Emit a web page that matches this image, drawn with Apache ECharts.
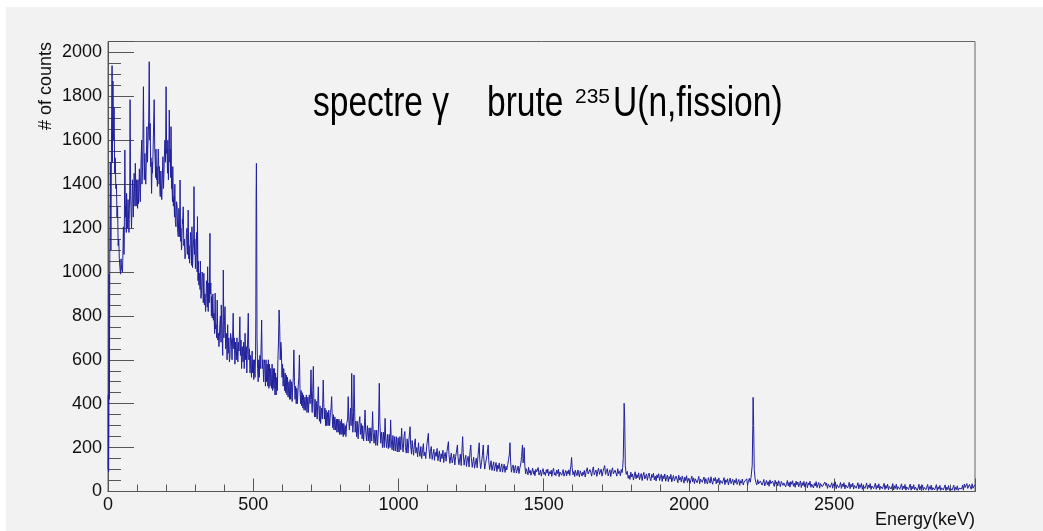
<!DOCTYPE html>
<html>
<head>
<meta charset="utf-8">
<script src="https://cdn.jsdelivr.net/npm/echarts@6/dist/echarts.min.js"></script>
<style>
html,body{margin:0;padding:0;background:#ffffff;}
#c{width:1043px;height:531px;}
</style>
</head>
<body>
<div id="c"></div>
<script>
// ---- Data: [energy (keV), counts] ----
const lowEnergyRise = [
  [0,100],[1,440],[2,90],[3,300],[4,990],[5,420],[6,1000],[8,1500],[10,1100],[12,1600],
  [14,1940],[15,1500],[17,1870],[19,1600],[21,1750],[23,1450],[25,1520],[27,1380],[29,1400],
  [31,1250],[33,1300],[35,1120],[37,1150],[39,1060],[41,1020],[43,990],[45,1060],[47,1010]
];
const mainHump = [
  [50,1000],[52,1120],[53,1206],[55,1080],[56,1150],[58,1556],[60,1250],[61,1300],[63,1180],
  [64,1358],[66,1240],[67,1200],[69,1330],[70,1290],[72,1180],[73,1240],[75,1400],[76,1785],
  [78,1350],[79,1300],[81,1200],[82,1267],[84,1420],[85,1380],[87,1250],[88,1310],[90,1450],
  [91,1404],[93,1300],[94,1495],[96,1380],[97,1300],[99,1420],[100,1343],[102,1290],[103,1420],
  [105,1310],[106,1350],[108,1470],[109,1430],[111,1320],[112,1380],[114,1520],[116,1601],
  [117,1400],[119,1480],[120,1560],[122,1844],[124,1500],[125,1420],[127,1540],[128,1480],
  [130,1400],[131,1450],[133,1580],[134,1662],[136,1500],[137,1560],[139,1640],[140,1692],
  [142,1958],[144,1600],[145,1677],[147,1480],[148,1520],[150,1358],[152,1500],[153,1450],
  [155,1540],[156,1601],[159,1785],[161,1560],[162,1525],[164,1430],[165,1560],[167,1420],
  [168,1480],[170,1390],[171,1449],[173,1560],[174,1520],[176,1400],[177,1480],[179,1360],
  [180,1343],[182,1460],[183,1420],[185,1330],[186,1370],[188,1480],[189,1525],[191,1380],
  [192,1420],[194,1520],[196,1600],[198,1500],[200,1844],[202,1540],[203,1560],[205,1450],
  [206,1600],[208,1420],[209,1480],[211,1738],[213,1500],[214,1560],[216,1430],[217,1662],
  [219,1380],[220,1420],[222,1320],[223,1480],[225,1300],[227,1343],[229,1250],[230,1400],
  [232,1230],[234,1206],[236,1320],[238,1300],[240,1180],[242,1161],[244,1290],[245,1250],
  [247,1160],[248,1419],[250,1140],[251,1200],[253,1100],[254,1115],[256,1240],[257,1220],
  [259,1297],[261,1120],[263,1150],[265,1060],[268,1085],[270,1180],[272,1200],[274,1080],
  [276,1282],[278,1060],[279,1120],[281,1040],[282,1070],[284,1180],[286,1150],[288,1030],
  [289,1206],[291,1020],[293,1100],[295,1150],[296,1389],[298,1080],[299,1150],[301,1015],
  [303,1100],[305,1180],[307,1000],[308,1252],[310,960],[311,1050],[313,940],[315,994],
  [317,920],[318,1050],[320,880],[322,903],[324,1000],[326,980],[328,860],[330,994],
  [332,850],[334,900],[336,820],[337,842],[339,960],[340,950],[342,840],[343,1024],
  [345,820],[347,950],[349,860],[351,1176],[352,900],[354,950],[356,800],[357,888],
  [359,790],[361,900],[363,780],[365,812],[367,720],[369,903],[370,740],[372,760],
  [374,700],[376,872],[378,690],[380,721],[382,660],[383,690],[385,760],[387,800],[389,680],[390,850]
];
const midRange = [
  [393,700],[395,620],[397,1009],[399,700],[401,780],[403,842],[405,650],[408,720],[410,600],
  [412,760],[414,630],[416,700],[418,590],[420,614],[422,720],[425,690],[427,600],[429,700],
  [431,812],[433,650],[435,700],[437,580],[439,680],[442,600],[444,700],[447,590],[449,680],
  [451,640],[454,796],[456,620],[458,690],[460,560],[462,660],[465,590],[467,680],[469,560],
  [472,721],[474,600],[476,660],[478,540],[480,650],[483,812],[485,600],[487,650],[489,540],
  [491,620],[494,520],[496,640],[498,540],[500,600],[502,510],[504,600],[506,520],[508,620],
  [509,800],[510,1350],[511,1495],[512,1200],[513,700],[515,560],[517,500],[519,600],[521,520],
  [523,620],[525,560],[527,650],[529,781],[531,560],[533,600],[536,500],[538,600],[540,584],
  [542,480],[544,600],[546,500],[548,580],[550,480],[552,600],[554,470],[556,580],[558,480],
  [560,560],[563,470],[565,580],[567,460],[569,560],[571,470],[573,560],[575,440],[577,540],
  [579,440],[581,520],[583,460],[585,600],[587,680],[589,827],[591,760],[593,600],[595,680],
  [597,645],[599,520],[601,580],[603,480],[605,560],[608,460],[610,540],[612,450],[614,530],
  [616,440],[618,520],[620,430],[623,500],[625,420],[627,510],[629,420],[632,500],[634,410],
  [636,480],[638,520],[640,645],[642,500],[644,420],[646,480],[648,400],[650,470],[652,400],
  [655,480],[657,520],[659,622],[661,470],[663,400],[665,460],[667,390],[669,450],[671,380],
  [673,440],[675,370],[678,430],[680,370],[683,440],[685,360],[688,430],[690,360],[693,440],
  [696,400],[699,554],[701,420],[703,360],[705,460],[707,570],[709,400],[711,340],[713,420],
  [715,340],[718,410],[720,330],[722,400],[724,477],[726,380],[728,320],[730,390],[732,310],
  [735,380],[738,330],[741,508],[743,400],[745,330],[747,380],[749,300],[751,370],[753,300],
  [756,360],[758,300],[760,370],[763,300],[766,360],[768,380],[770,432],[772,340],[774,290],
  [776,350],[778,280],[781,340],[783,280],[786,330],[788,270],[790,330],[793,270],[795,330],
  [797,260],[799,320],[802,260],[804,330],[806,260],[808,310],[810,250],[812,310],[814,260],
  [817,300],[819,250],[822,310],[825,330],[827,432],[829,330],[831,280],[833,330],[835,380],
  [837,300],[839,538],[841,360],[843,270],[845,320]
];
const plateau = [
  [847,531],[849,380],[851,270],[853,320],[856,250],[858,320],[861,240],[864,310],[867,341],
  [869,260],[872,310],[875,240],[877,300],[880,230],[883,300],[885,371],[887,280],[890,230],
  [893,300],[896,230],[899,290],[902,220],[905,290],[908,230],[911,364],[913,270],[916,220],
  [919,280],[922,210],[925,280],[928,210],[931,280],[934,493],[936,320],[939,220],[942,270],
  [945,200],[948,270],[951,200],[954,333],[956,240],[959,200],[962,260],[965,195],[968,260],
  [971,200],[973,326],[975,240],[978,190],[981,255],[984,185],[987,250],[990,185],[993,250],
  [996,180],[999,245],[1002,180],[1005,250],[1008,190],[1011,288],[1013,220],[1016,180],
  [1019,250],[1022,273],[1024,200],[1027,175],[1030,240],[1033,175],[1036,235],
  [1040,295],[1042,210],[1045,170],[1047,232],[1050,190],[1052,165],[1055,215],[1058,240],
  [1060,175],[1063,200],[1066,158],[1069,222],[1071,185],[1074,160],[1077,205],[1080,150],
  [1083,192],[1086,218],[1088,162],[1091,180],[1094,150],[1097,205],[1100,210],[1103,265],
  [1105,195],[1108,150],[1110,182],[1113,205],[1116,146],[1119,170],[1122,192],[1124,142],
  [1127,178],[1130,160],[1133,196],[1136,140],[1139,168],[1141,185],[1144,135],[1147,172],
  [1150,150],[1153,188],[1156,132],[1158,160],[1161,178],[1164,138],[1167,182],[1170,190],
  [1172,227],[1174,168],[1177,128],[1180,158],[1182,175],[1185,130],[1188,150],[1191,170],
  [1194,121],[1197,160],[1200,185],[1203,212],[1205,158],[1208,122],[1211,148],[1213,170],
  [1216,118],[1219,195],[1221,250],[1223,178],[1226,120],[1229,150],[1232,165],[1234,114],
  [1237,142],[1240,160],[1243,112],[1246,175],[1249,212],[1251,155],[1254,110],[1257,138],
  [1259,156],[1262,106],[1265,130],[1268,152],[1271,108],[1274,165],[1278,222],[1280,145],
  [1283,104],[1286,132],[1289,165],[1292,212],[1294,148],[1297,102],[1300,128],[1302,144],
  [1305,165],[1309,212],[1311,138],[1314,100],[1317,124],[1319,140],[1322,96],[1325,118],
  [1328,135],[1330,94],[1333,112],[1336,132],[1339,91],[1342,120],[1344,104],[1347,130],
  [1350,90],[1353,110],[1356,126],[1358,88],[1361,106],[1364,124],[1367,87],[1370,115],
  [1373,98],[1376,122],[1379,145],[1382,170],[1384,222],[1386,138],[1389,88],[1392,110],
  [1395,121],[1398,85],[1400,104],[1403,118],[1406,84],[1409,97],[1412,116],[1415,82],
  [1418,108],[1421,125],[1424,160],[1427,212],[1429,130],[1431,150],[1433,200],[1435,120],
  [1438,80],[1440,104],[1443,92],[1446,76],[1448,110],[1451,85],[1454,96],[1456,74],[1459,88],
  [1462,107],[1465,79],[1467,94],[1470,72],[1473,101],[1476,90],[1478,83],[1481,109],[1484,75],
  [1487,86],[1489,98],[1492,70],[1495,92],[1498,104],[1501,78],[1503,88],[1506,73],[1509,99],
  [1512,84],[1514,102],[1517,71],[1520,90],[1523,80],[1526,97],[1528,69],[1531,93],[1534,106],
  [1537,76],[1539,86],[1542,72],[1545,98],[1548,82],[1551,101],[1553,68],[1556,89],[1559,95],
  [1562,74],[1565,87],[1567,100],[1570,70],[1573,84],[1576,96],[1579,71],[1581,92],[1584,80],
  [1587,99],[1590,73],[1592,102],[1594,120],[1596,155],[1598,110],[1601,76],[1604,91],[1607,68],
  [1609,97],[1612,82],[1615,72],[1618,98],[1620,85],[1623,67],[1626,94],[1629,100],[1632,70],
  [1635,88],[1637,77],[1640,96],[1643,66],[1646,90]
];
const tailNear = [
  [1650,108],[1653,80],[1656,72],[1659,100],[1662,88],[1665,70],[1668,96],[1671,112],[1674,76],
  [1677,86],[1680,98],[1683,69],[1686,92],[1689,106],[1692,78],[1695,84],[1698,102],[1701,70],
  [1704,90],[1707,96],[1710,118],[1713,78],[1716,92],[1719,104],[1722,71],[1725,86],[1728,99],
  [1731,68],[1734,94],[1737,108],[1740,80],[1743,73],[1746,97],[1749,88],[1752,70],[1755,104],
  [1758,82],[1761,92],[1764,72],[1767,100],[1770,86],[1772,110],[1774,150],[1776,300],[1777,402],
  [1779,330],[1781,120],[1784,78],[1788,92],[1791,60],[1794,74],[1797,55],[1800,88],[1803,66],
  [1806,80],[1809,52],[1812,71],[1815,90],[1818,58],[1821,77],[1824,63],[1827,85],[1830,54],
  [1833,69],[1836,82],[1839,50],[1842,74],[1845,87],[1848,57],[1851,66],[1854,80],[1857,51],
  [1860,72],[1863,84],[1866,60],[1869,49],[1872,78],[1875,64],[1878,83],[1881,53],[1884,70],
  [1887,48],[1890,76],[1893,62],[1896,81],[1899,50],[1902,67],[1905,78],[1908,46],[1911,72],
  [1914,58],[1917,80],[1920,47],[1923,63],[1926,75],[1929,45],[1932,68],[1935,56],[1938,78],
  [1941,44],[1944,61],[1947,73],[1950,48],[1953,42],[1956,70],[1959,57],[1962,40],[1965,74],
  [1968,52],[1971,64],[1974,43],[1977,71],[1980,55],[1983,38],[1986,66],[1989,49],[1992,72],
  [1995,41],[1998,60],[2001,68],[2004,37],[2007,54],[2010,70],[2013,44],[2016,62],[2019,36],
  [2022,58],[2025,67],[2028,40],[2031,52],[2034,69],[2037,35],[2040,57],[2043,64],[2046,42],
  [2049,50],[2052,66],[2055,36],[2058,59],[2061,45],[2064,34],[2067,63],[2070,51],[2073,38],
  [2076,67],[2079,44],[2082,33],[2085,60],[2088,48],[2091,64],[2094,35],[2097,55],[2100,40],
  [2103,62],[2106,32],[2109,50],[2112,59],[2115,37],[2118,46],[2121,63],[2124,31],[2127,53],
  [2130,42],[2133,58],[2136,30],[2139,48],[2142,61],[2145,36],[2148,44],[2151,56],[2154,29],
  [2157,51],[2160,40],[2163,59],[2166,32],[2169,45],[2172,55],[2175,28],[2178,49],[2181,38],
  [2184,57],[2187,30],[2190,43],[2193,52],[2196,34],[2199,58],[2202,29],[2205,46],[2208,60],
  [2211,42],[2214,65],[2216,70],[2218,120],[2220,300],[2221,429],[2223,300],[2225,100],[2228,58]
];
const tailFar = [
  [2231,40],[2234,30],[2237,54],[2240,35],[2243,26],[2246,48],[2249,52],[2252,29],[2255,41],
  [2258,55],[2261,25],[2264,38],[2267,50],[2270,31],[2273,45],[2276,24],[2279,53],[2282,36],
  [2285,27],[2288,48],[2291,40],[2294,23],[2297,51],[2300,33],[2303,44],[2306,25],[2309,49],
  [2312,37],[2315,22],[2318,46],[2321,52],[2324,28],[2327,39],[2330,47],[2333,21],[2336,35],
  [2339,50],[2342,26],[2345,42],[2348,20],[2351,45],[2354,33],[2357,49],[2360,24],[2363,38],
  [2366,19],[2369,47],[2372,30],[2375,43],[2378,21],[2381,36],[2384,48],[2387,18],[2390,40],
  [2393,27],[2396,46],[2399,20],[2402,34],[2405,44],[2408,17],[2411,39],[2414,29],[2417,47],
  [2420,19],[2423,33],[2426,42],[2429,16],[2432,37],[2435,25],[2438,45],[2441,18],[2444,31],
  [2447,41],[2450,15],[2453,36],[2456,44],[2459,22],[2462,30],[2465,16],[2468,43],[2471,27],
  [2474,38],[2477,14],[2480,33],[2483,42],[2486,19],[2489,29],[2492,40],[2495,15],[2498,35],
  [2501,24],[2504,44],[2507,13],[2510,31],[2513,39],[2516,17],[2519,27],[2522,41],[2525,14],
  [2528,34],[2531,22],[2534,40],[2537,12],[2540,30],[2543,37],[2546,16],[2549,26],[2552,42],
  [2555,13],[2558,33],[2561,21],[2564,38],[2567,11],[2570,28],[2573,36],[2576,15],[2579,24],
  [2582,40],[2585,12],[2588,31],[2591,19],[2594,37],[2597,10],[2600,27],[2603,35],[2606,14],
  [2609,22],[2612,39],[2615,11],[2618,29],[2621,18],[2624,36],[2627,9],[2630,25],[2633,34],
  [2636,13],[2639,21],[2642,38],[2645,10],[2648,28],[2651,16],[2654,35],[2657,8],[2660,24],
  [2663,33],[2666,12],[2669,20],[2672,37],[2675,9],[2678,27],[2681,15],[2684,34],[2687,8],
  [2690,23],[2693,32],[2696,11],[2699,19],[2702,36],[2705,7],[2708,26],[2711,14],[2714,33],
  [2717,9],[2720,22],[2723,31],[2726,10],[2729,18],[2732,35],[2735,7],[2738,25],[2741,13],
  [2744,32],[2747,6],[2750,21],[2753,30],[2756,9],[2759,17],[2762,34],[2765,6],[2768,24],
  [2771,12],[2774,31],[2777,8],[2780,20],[2783,29],[2786,5],[2789,16],[2792,33],[2795,7],
  [2798,23],[2801,11],[2804,30],[2807,6],[2810,19],[2813,28],[2816,8],[2819,15],[2822,32],
  [2825,5],[2828,22],[2831,10],[2834,29],[2837,6],[2840,18],[2843,27],[2846,7],[2849,14],
  [2852,31],[2855,4],[2858,21],[2861,10],[2864,28],[2867,5],[2870,17],[2873,26],[2876,7],
  [2879,13],[2882,30],[2885,4],[2888,20],[2891,9],[2894,27],[2897,5],[2900,16],[2903,25],
  [2906,6],[2909,12],[2912,29],[2915,4],[2918,19],[2921,9],[2924,26],[2927,5],[2930,15],
  [2933,24],[2936,7],[2939,12],[2942,28],[2945,6],[2948,34],[2951,18],[2954,10],[2957,36],
  [2960,14],[2963,8],[2966,32],[2969,20],[2972,10],[2975,35],[2978,15],[2981,9],[2984,30]
];
const xTickLabels = [0, 500, 1000, 1500, 2000, 2500];
const yTickLabels = [0, 200, 400, 600, 800, 1000, 1200, 1400, 1600, 1800, 2000];
const xMax = 2985;
const yMax = 2050;
const xName = 'Energy(keV)';
const yName = '# of counts';
const titleParts = ['spectre γ', 'brute', '235', 'U(n,fission)'];

const FONT = '"Liberation Sans", Arial, Helvetica, sans-serif';
const spectrum = [].concat(lowEnergyRise, mainHump, midRange, plateau, tailNear, tailFar);

const chart = echarts.init(document.getElementById('c'), null, {renderer: 'canvas'});
const axisColor = '#555555';
const option = {
  animation: false,
  backgroundColor: '#f2f2f2',
  grid: {left: 108, right: 68, top: 41.5, bottom: 39.5, show: true, borderColor: '#666666', borderWidth: 1, backgroundColor: 'transparent'},
  xAxis: [
    {
      type: 'value', min: 0, max: xMax, interval: 500, position: 'bottom',
      axisLine: {show: true, onZero: false, lineStyle: {color: axisColor, width: 1}},
      axisTick: {show: true, inside: true, length: 13, lineStyle: {color: axisColor}},
      axisLabel: {show: true, margin: 5, fontSize: 18, color: '#111', fontFamily: FONT,
        formatter: v => xTickLabels.includes(v) ? String(v) : ''},
      splitLine: {show: false},
      name: xName, nameLocation: 'end', nameGap: 0,
      nameTextStyle: {fontSize: 18, fontFamily: FONT, color: '#111', align: 'right', verticalAlign: 'top', padding: [20, 0, 0, 0]}
    },
    {
      type: 'value', min: 0, max: xMax, interval: 100, position: 'bottom',
      axisLine: {show: false},
      axisTick: {show: true, inside: true, length: 7, lineStyle: {color: axisColor}},
      axisLabel: {show: false}, splitLine: {show: false}
    }
  ],
  yAxis: [
    {
      type: 'value', min: 0, max: yMax, interval: 200, position: 'left',
      axisLine: {show: true, onZero: false, lineStyle: {color: axisColor, width: 1}},
      axisTick: {show: true, inside: true, length: 26, lineStyle: {color: axisColor}},
      axisLabel: {show: true, margin: 6, fontSize: 18, color: '#111', fontFamily: FONT,
        formatter: v => yTickLabels.includes(v) ? String(v) : ''},
      splitLine: {show: false}
    },
    {
      type: 'value', min: 0, max: yMax, interval: 50, position: 'left',
      axisLine: {show: false},
      axisTick: {show: true, inside: true, length: 13, lineStyle: {color: axisColor}},
      axisLabel: {show: false}, splitLine: {show: false}
    }
  ],
  series: [{
    type: 'line', xAxisIndex: 0, yAxisIndex: 0, data: spectrum,
    showSymbol: false, symbol: 'none', silent: true, clip: true,
    lineStyle: {color: '#20209c', width: 1}
  }],
  graphic: [
    {type: 'rect', silent: true, shape: {x: 0, y: 0, width: 1043, height: 7}, style: {fill: '#ffffff'}},
    {type: 'rect', silent: true, shape: {x: 0, y: 0, width: 6, height: 531}, style: {fill: '#ffffff'}},
    {type: 'text', silent: true, x: 46, y: 42, rotation: Math.PI / 2,
      style: {text: yName, fontSize: 18, fontFamily: FONT, fill: '#111', align: 'right', verticalAlign: 'middle'}},
    {type: 'text', silent: true, x: 313, y: 104.5, scaleX: 0.78,
      style: {text: titleParts[0], fontSize: 43, fontFamily: FONT, fill: '#000', align: 'left', verticalAlign: 'middle'}},
    {type: 'text', silent: true, x: 487, y: 104.5, scaleX: 0.78,
      style: {text: titleParts[1], fontSize: 43, fontFamily: FONT, fill: '#000', align: 'left', verticalAlign: 'middle'}},
    {type: 'text', silent: true, x: 575, y: 97, scaleX: 1,
      style: {text: titleParts[2], fontSize: 21, fontFamily: FONT, fill: '#000', align: 'left', verticalAlign: 'middle'}},
    {type: 'text', silent: true, x: 613, y: 104.5, scaleX: 0.78,
      style: {text: titleParts[3], fontSize: 43, fontFamily: FONT, fill: '#000', align: 'left', verticalAlign: 'middle'}}
  ]
};
chart.setOption(option);
</script>
</body>
</html>
